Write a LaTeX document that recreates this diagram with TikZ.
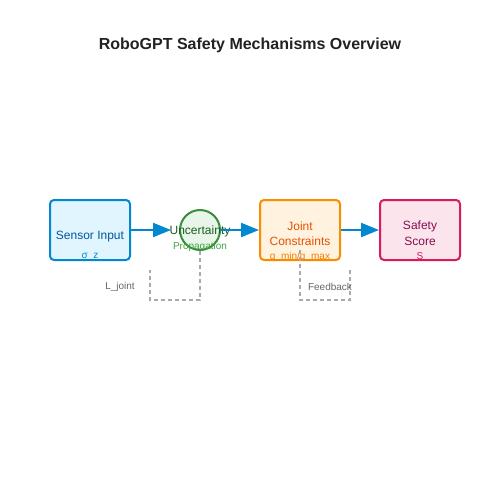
\documentclass[tikz,border=0pt]{standalone}
\usepackage{fontspec}
\setmainfont{Liberation Sans}
\usetikzlibrary{arrows.meta}
\definecolor{titlec}{HTML}{222222}
\definecolor{bluefill}{HTML}{E1F5FE}
\definecolor{bluedraw}{HTML}{0288D1}
\definecolor{bluetext}{HTML}{01579B}
\definecolor{greenfill}{HTML}{E8F5E9}
\definecolor{greendraw}{HTML}{388E3C}
\definecolor{greentext}{HTML}{1B5E20}
\definecolor{greensub}{HTML}{43A047}
\definecolor{orangefill}{HTML}{FFF3E0}
\definecolor{orangedraw}{HTML}{FB8C00}
\definecolor{orangetext}{HTML}{E65100}
\definecolor{orangesub}{HTML}{F57C00}
\definecolor{pinkfill}{HTML}{FCE4EC}
\definecolor{pinkdraw}{HTML}{D81B60}
\definecolor{pinktext}{HTML}{880E4F}
\definecolor{dashc}{HTML}{AAAAAA}
\definecolor{labc}{HTML}{666666}
\tikzset{
  box/.style={draw, line width=2pt, rounded corners=4pt, minimum width=80pt, minimum height=60pt, inner sep=0pt},
  flow/.style={draw=bluedraw, line width=2pt, -{Triangle[length=18pt,width=14pt]}},
  fb/.style={draw=dashc, line width=1.5pt, dash pattern=on 4pt off 3pt},
  main/.style={font=\fontsize{12}{14}\selectfont},
  sub/.style={font=\fontsize{10}{12}\selectfont},
}
\begin{document}
\begin{tikzpicture}[x=1pt,y=-1pt]
\useasboundingbox (0,0) rectangle (500,500);
\node[font=\fontsize{16}{19}\selectfont\bfseries, text=titlec] (title) at (250,45) {RoboGPT Safety Mechanisms Overview};
\node[box, draw=bluedraw, fill=bluefill] (sensor) at (90,230) {};
\node[box, draw=orangedraw, fill=orangefill] (joint) at (300,230) {};
\node[box, draw=pinkdraw, fill=pinkfill] (safety) at (420,230) {};
\node[circle, draw=greendraw, fill=greenfill, line width=2pt, minimum size=40pt, inner sep=0pt] (unc) at (200,230) {};
% texts
\node[main, text=bluetext] (t1) at (90,237) {Sensor Input};
\node[sub, text=bluedraw] (t1s) at (90,256.5) {σ\_z};
\node[main, text=greentext] (t2) at (200,231) {Uncertainty};
\node[sub, text=greensub] (t2s) at (200,246.5) {Propagation};
\node[main, text=orangetext] (t3a) at (300,226.5) {Joint};
\node[main, text=orangetext] (t3b) at (300,241.5) {Constraints};
\node[sub, text=orangesub] (t3s) at (300,256.5) {q\_min/q\_max};
\node[main, text=pinktext] (t4a) at (420,226.5) {Safety};
\node[main, text=pinktext] (t4b) at (420,241.5) {Score};
\node[sub, text=pinkdraw] (t4s) at (420,256.5) {S};
% arrows
\draw[flow, shorten >=8pt] (sensor.east) -- (unc.west);
\draw[flow] (unc.east) -- (joint.west);
\draw[flow] (joint.east) -- (safety.west);
% feedback dashed
\coordinate (l1) at (150,270);
\coordinate (f0) at (300,250);
\coordinate (f1) at (350,270);
\draw[fb] (unc.south) -- (200,300) -| (l1);
\draw[fb] (f0) -- (300,300) -| (f1);
\node[sub, text=labc] (lj) at (120,286.5) {L\_joint};
\node[sub, text=labc] (lf) at (330,286.5) {Feedback};
\end{tikzpicture}
\end{document}
